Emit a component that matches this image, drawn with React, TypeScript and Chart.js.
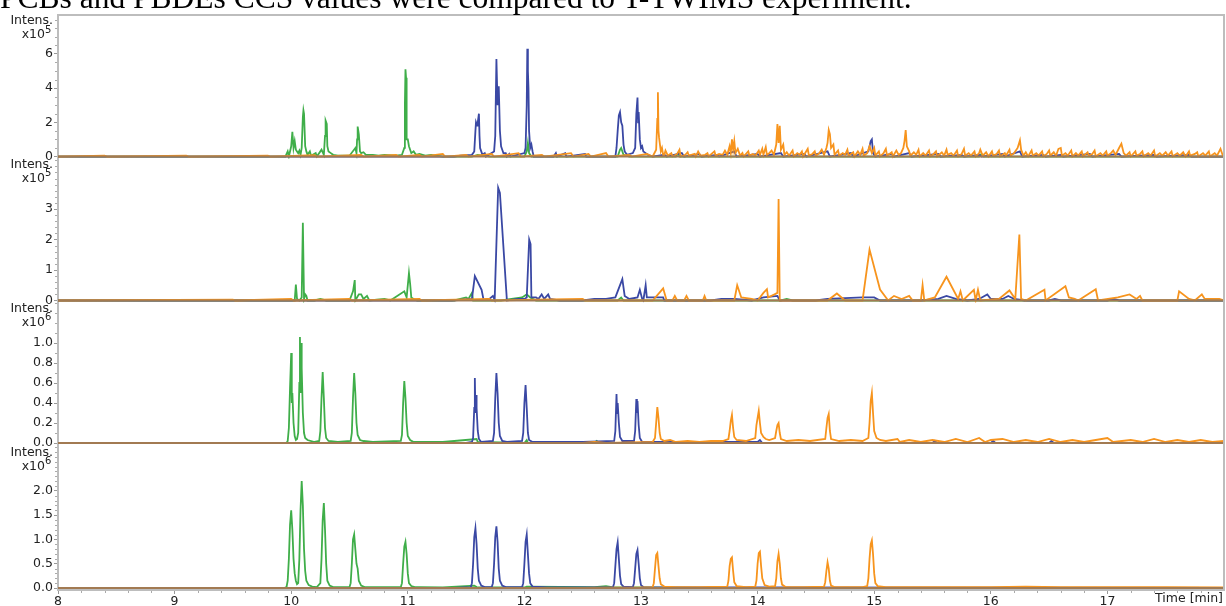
import React, { useEffect, useRef } from 'react';
import { Chart, registerables } from 'chart.js';

Chart.register(...registerables);

type Pt = [number, number];

const titleText = 'PCBs and PBDEs CCS values were compared to T-TWIMS experiment.';
const xTickValues = [8, 9, 10, 11, 12, 13, 14, 15, 16, 17];
const xLabel = 'Time [min]';
const yLabel = 'Intens.';
const panelExponents = ['5', '5', '6', '6'];
const p1Ticks = [0, 2, 4, 6];
const p2Ticks = [0, 1, 2, 3];
const p3Ticks = [0, 0.2, 0.4, 0.6, 0.8, 1.0];
const p4Ticks = [0, 0.5, 1.0, 1.5, 2.0];
const panelTicks = [p1Ticks, p2Ticks, p3Ticks, p4Ticks];
const panelMin = [-0.13, -0.066, -0.0325, -0.041];
const panelMax = [8.27, 4.65, 1.405, 2.917];
const panelMinorStep = [0.5, 0.2, 0.1, 0.1];
const panelDecimals = [0, 0, 1, 1];

// Panel 1 (x10^5)
const p1Green: Pt[] = [
  [8, 0], [9.95, 0], [9.97, 0.3], [9.98, 0], [10.0, 0.6], [10.01, 1.45], [10.02, 0.5], [10.03, 0.9], [10.04, 0.4],
  [10.05, 0.3], [10.06, 0.2], [10.07, 0.35], [10.08, 0.1], [10.09, 0.5], [10.1, 2.3], [10.105, 2.7], [10.11, 2.5],
  [10.12, 0.6], [10.13, 0.3], [10.14, 0.1], [10.16, 0.3], [10.17, 0.05], [10.21, 0.2], [10.22, 0], [10.26, 0.4],
  [10.28, 0.1], [10.29, 1.2], [10.295, 2.1], [10.305, 1.9], [10.31, 0.6], [10.32, 0.3], [10.34, 0.2], [10.36, 0.1],
  [10.4, 0.05], [10.5, 0.05], [10.55, 0.5], [10.56, 0.2], [10.565, 1.0], [10.57, 1.75], [10.58, 1.3], [10.59, 0.3],
  [10.6, 0.2], [10.62, 0.25], [10.64, 0.1], [10.7, 0.1], [10.75, 0.05], [10.8, 0.1], [10.9, 0.05], [10.95, 0.1],
  [10.97, 0.5], [10.975, 3.0], [10.98, 5.1], [10.985, 4.6], [10.99, 1.0], [11.0, 1.0], [11.01, 0.6], [11.02, 0.4],
  [11.03, 0.2], [11.05, 0.3], [11.07, 0.1], [11.1, 0.15], [11.15, 0.05], [11.2, 0.1], [11.3, 0], [11.55, 0],
  [11.6, 0.1], [11.7, 0], [12.0, 0], [12.02, 0.3], [12.03, 0.8], [12.04, 0.2], [12.06, 0], [12.8, 0], [12.82, 0.4],
  [12.83, 0.5], [12.85, 0.1], [12.9, 0], [13.3, 0], [13.32, 0.2], [13.33, 0], [15.9, 0], [15.92, 0.15], [15.94, 0], [18, 0],
];
const p1Blue: Pt[] = [
  [8, 0], [11.4, 0], [11.45, 0.05], [11.55, 0.1], [11.57, 0.3], [11.58, 1.5], [11.585, 2.0], [11.595, 1.8], [11.6, 2.0],
  [11.61, 2.5], [11.615, 1.2], [11.62, 0.5], [11.63, 0.3], [11.64, 0.1], [11.66, 0.2], [11.67, 0], [11.74, 0.3],
  [11.75, 1.2], [11.76, 5.7], [11.765, 5.7], [11.77, 3.0], [11.775, 4.0], [11.78, 4.1], [11.79, 1.5], [11.8, 0.6],
  [11.81, 0.4], [11.82, 0.2], [11.84, 0.2], [11.85, 0], [11.87, 0.15], [11.88, 0], [12.0, 0.2], [12.01, 0.5],
  [12.02, 3.0], [12.025, 6.3], [12.03, 5.0], [12.035, 4.0], [12.04, 1.5], [12.05, 0.5], [12.06, 0.7], [12.07, 0.3],
  [12.08, 0], [12.25, 0], [12.27, 0.2], [12.28, 0], [12.35, 0.2], [12.36, 0], [12.52, 0.15], [12.53, 0], [12.78, 0],
  [12.79, 0.5], [12.8, 1.5], [12.81, 2.4], [12.82, 2.6], [12.83, 2.0], [12.84, 1.8], [12.85, 0.7], [12.86, 0.3],
  [12.88, 0.1], [12.93, 0.2], [12.95, 0.5], [12.96, 2.5], [12.97, 3.45], [12.975, 2.0], [12.98, 2.6], [12.99, 1.0],
  [13.0, 0.5], [13.01, 0.6], [13.02, 0.3], [13.04, 0.2], [13.06, 0.1], [13.1, 0], [13.2, 0.1], [13.22, 0], [13.35, 0.2],
  [13.37, 0], [13.5, 0.15], [13.52, 0], [13.65, 0.1], [13.67, 0], [13.8, 0.3], [13.82, 0], [14.0, 0.15], [14.02, 0],
  [14.2, 0.2], [14.22, 0], [14.4, 0.15], [14.42, 0], [14.6, 0.3], [14.62, 0], [14.8, 0.2], [14.82, 0], [14.95, 0.3],
  [14.97, 0.9], [14.98, 1.0], [14.99, 0.2], [15.01, 0], [15.15, 0.15], [15.17, 0], [15.3, 0.2], [15.32, 0],
  [15.55, 0.15], [15.57, 0], [15.75, 0.1], [15.77, 0], [15.9, 0.1], [15.92, 0], [16.1, 0.15], [16.12, 0], [16.25, 0.3],
  [16.27, 0], [16.45, 0.1], [16.47, 0], [16.6, 0.1], [16.62, 0], [16.85, 0.15], [16.87, 0], [17.1, 0.15], [17.12, 0],
  [17.4, 0.1], [17.42, 0], [17.7, 0.1], [17.72, 0], [18, 0],
];
const p1Orange: Pt[] = [
  [8, 0], [8.4, 0.05], [8.42, 0], [9.1, 0.05], [9.12, 0], [9.8, 0.05], [9.82, 0], [10.2, 0.08], [10.22, 0], [10.6, 0.1],
  [10.62, 0], [10.9, 0.1], [10.92, 0], [11.1, 0.1], [11.12, 0], [11.3, 0.15], [11.32, 0], [11.5, 0.1], [11.52, 0],
  [11.72, 0.15], [11.74, 0], [11.95, 0.2], [11.97, 0], [12.15, 0.1], [12.17, 0], [12.4, 0.2], [12.42, 0], [12.55, 0.15],
  [12.57, 0], [12.7, 0.2], [12.72, 0], [12.9, 0.1], [12.92, 0], [13.05, 0.15], [13.1, 0], [13.13, 0.4], [13.14, 2.2],
  [13.145, 3.75], [13.15, 1.5], [13.155, 1.1], [13.16, 1.1], [13.17, 0.3], [13.18, 0.5], [13.19, 0.1],
  [13.2, 0.1], [13.21, 0.35], [13.23, 0.05], [13.26, 0.2], [13.27, 0], [13.31, 0.15], [13.33, 0.4], [13.34, 0],
  [13.38, 0.1], [13.4, 0.25], [13.41, 0.05], [13.46, 0.15], [13.47, 0], [13.49, 0.3], [13.51, 0.05], [13.55, 0.1],
  [13.57, 0.2], [13.58, 0], [13.63, 0.3], [13.64, 0.05], [13.67, 0.15], [13.7, 0.1], [13.72, 0.35], [13.74, 0.1],
  [13.76, 0.6], [13.77, 0.2], [13.78, 1.0], [13.79, 0.4], [13.8, 0.9], [13.81, 0.2], [13.83, 0.45], [13.85, 0.05],
  [13.87, 0.2], [13.88, 0], [13.92, 0.3], [13.93, 0.05], [13.96, 0.15], [13.98, 0.05], [14.01, 0.35], [14.02, 0.1],
  [14.04, 0.45], [14.05, 0.1], [14.07, 0.55], [14.08, 0.1], [14.1, 0.2], [14.12, 0.35], [14.14, 0.1], [14.16, 0.7],
  [14.17, 1.9], [14.18, 0.8], [14.19, 1.8], [14.2, 0.4], [14.22, 0.7], [14.23, 0.1], [14.25, 0.25], [14.27, 0.05],
  [14.3, 0.35], [14.31, 0], [14.34, 0.2], [14.36, 0.1], [14.38, 0.3], [14.39, 0], [14.43, 0.45], [14.44, 0.05],
  [14.47, 0.15], [14.49, 0.3], [14.5, 0.05], [14.53, 0.2], [14.55, 0.4], [14.57, 0.1], [14.59, 0.5], [14.6, 0.8],
  [14.61, 1.55], [14.62, 1.3], [14.63, 0.5], [14.65, 0.7], [14.66, 0.1], [14.69, 0.35], [14.7, 0.05], [14.73, 0.2],
  [14.75, 0.1], [14.77, 0.4], [14.78, 0.05], [14.82, 0.25], [14.83, 0], [14.86, 0.3], [14.88, 0.1], [14.9, 0.45],
  [14.91, 0.05], [14.94, 0.2], [14.96, 0.6], [14.98, 0.2], [15.0, 0.5], [15.01, 0.05], [15.04, 0.3], [15.05, 0],
  [15.08, 0.2], [15.1, 0.45], [15.11, 0.05], [15.15, 0.25], [15.16, 0], [15.19, 0.35], [15.21, 0.1], [15.23, 0.2],
  [15.25, 0.5], [15.26, 0.9], [15.27, 1.55], [15.28, 0.6], [15.3, 0.3], [15.31, 0.05], [15.34, 0.25], [15.36, 0.1],
  [15.38, 0.4], [15.39, 0], [15.42, 0.2], [15.44, 0.05], [15.47, 0.35], [15.48, 0], [15.51, 0.15], [15.53, 0.3],
  [15.54, 0], [15.58, 0.25], [15.6, 0.05], [15.62, 0.4], [15.63, 0.1], [15.66, 0.2], [15.68, 0.05], [15.71, 0.35],
  [15.72, 0], [15.75, 0.15], [15.77, 0.45], [15.78, 0.05], [15.81, 0.2], [15.83, 0.05], [15.86, 0.3], [15.87, 0],
  [15.9, 0.2], [15.91, 0.4], [15.93, 0.05], [15.96, 0.25], [15.98, 0], [16.01, 0.3], [16.02, 0.05], [16.05, 0.15],
  [16.07, 0.35], [16.08, 0], [16.12, 0.2], [16.13, 0.05], [16.16, 0.4], [16.17, 0.05], [16.2, 0.2], [16.23, 0.5],
  [16.25, 0.95], [16.26, 0.4], [16.28, 0.05], [16.3, 0.25], [16.32, 0], [16.35, 0.35], [16.36, 0.05], [16.39, 0.2],
  [16.41, 0.05], [16.44, 0.3], [16.45, 0], [16.48, 0.15], [16.5, 0.35], [16.51, 0.05], [16.54, 0.25], [16.56, 0.05],
  [16.58, 0.45], [16.6, 0.5], [16.61, 0.05], [16.64, 0.2], [16.66, 0.05], [16.69, 0.35], [16.7, 0], [16.73, 0.2],
  [16.75, 0.05], [16.78, 0.3], [16.79, 0], [16.83, 0.25], [16.84, 0.05], [16.87, 0.15], [16.89, 0.35], [16.9, 0],
  [16.94, 0.2], [16.96, 0.05], [16.99, 0.3], [17.0, 0.05], [17.03, 0.2], [17.05, 0.35], [17.07, 0.1], [17.1, 0.5],
  [17.12, 0.75], [17.14, 0.2], [17.16, 0.05], [17.19, 0.25], [17.2, 0], [17.24, 0.3], [17.25, 0.05], [17.28, 0.15],
  [17.3, 0.3], [17.31, 0], [17.35, 0.2], [17.37, 0.05], [17.4, 0.35], [17.41, 0], [17.45, 0.2], [17.47, 0.05],
  [17.5, 0.25], [17.52, 0.05], [17.55, 0.3], [17.56, 0], [17.6, 0.2], [17.62, 0.05], [17.65, 0.25], [17.67, 0],
  [17.7, 0.3], [17.71, 0.05], [17.75, 0.15], [17.77, 0.25], [17.78, 0], [17.82, 0.2], [17.84, 0.05], [17.87, 0.3],
  [17.88, 0], [17.92, 0.2], [17.94, 0.05], [17.97, 0.45], [17.99, 0.05], [18, 0],
];

// Panel 2 (x10^5)
const p2Green: Pt[] = [
  [8, 0], [9.9, 0], [10.03, 0], [10.04, 0.52], [10.05, 0.05], [10.07, 0], [10.09, 0.1], [10.1, 2.55], [10.11, 0.05],
  [10.12, 0.2], [10.13, 0.15], [10.14, 0], [10.2, 0], [10.25, 0.05], [10.3, 0], [10.5, 0], [10.53, 0.3], [10.545, 0.67],
  [10.55, 0], [10.58, 0.2], [10.6, 0.2], [10.62, 0.05], [10.65, 0.15], [10.67, 0], [10.8, 0.05], [10.85, 0],
  [10.97, 0.3], [10.99, 0.1], [11.01, 0.9], [11.02, 0.55], [11.03, 0.1], [11.05, 0.05], [11.08, 0], [11.4, 0],
  [11.45, 0.05], [11.5, 0.1], [11.52, 0.05], [11.55, 0.25], [11.56, 0], [11.8, 0], [11.98, 0.1], [12.02, 0.2],
  [12.05, 0.1], [12.1, 0], [12.8, 0], [12.83, 0.1], [12.85, 0], [14.2, 0], [14.25, 0.05], [14.3, 0], [18, 0],
];
const p2Blue: Pt[] = [
  [8, 0], [11.38, 0], [11.55, 0.05], [11.575, 0.8], [11.633, 0.35], [11.65, 0.02], [11.7, 0.05], [11.73, 0.15],
  [11.745, 0.02], [11.775, 3.7], [11.79, 3.53], [11.85, 0], [11.95, 0.05], [12.0, 0.05], [12.02, 0.1], [12.041, 2.0],
  [12.053, 1.85], [12.06, 0.1], [12.1, 0.1], [12.12, 0.05], [12.148, 0.2], [12.17, 0.05], [12.204, 0.2], [12.22, 0.05],
  [12.3, 0], [12.5, 0], [12.6, 0.05], [12.7, 0.05], [12.78, 0.1], [12.84, 0.7], [12.86, 0.15], [12.9, 0.05],
  [12.97, 0.1], [12.99, 0.35], [13.01, 0.05], [13.02, 0], [13.04, 0.5], [13.05, 0.1], [13.19, 0.1], [13.2, 0],
  [13.6, 0], [13.69, 0.05], [13.8, 0.05], [13.95, 0], [14.05, 0.1], [14.17, 0.15], [14.19, 0], [14.5, 0], [14.6, 0.05],
  [14.9, 0.1], [15.0, 0.1], [15.05, 0], [15.4, 0], [15.55, 0.05], [15.62, 0.15], [15.7, 0.05], [15.8, 0], [15.9, 0.05],
  [15.97, 0.2], [16.0, 0.05], [16.1, 0.05], [16.15, 0.15], [16.2, 0.05], [16.29, 0], [16.5, 0], [16.55, 0.05],
  [16.6, 0], [17.0, 0], [17.05, 0.05], [17.1, 0], [18, 0],
];
const p2Orange: Pt[] = [
  [8, 0], [9.5, 0.03], [9.52, 0], [10.0, 0.05], [10.02, 0], [10.5, 0.05], [10.52, 0], [11.1, 0.05], [11.12, 0],
  [11.7, 0.05], [11.72, 0], [12.5, 0.05], [12.52, 0], [13.1, 0], [13.19, 0.4], [13.22, 0], [13.27, 0], [13.29, 0.15],
  [13.31, 0], [13.37, 0], [13.39, 0.15], [13.41, 0], [13.53, 0], [13.545, 0.15], [13.56, 0], [13.8, 0], [13.825, 0.5],
  [13.86, 0.1], [13.95, 0.05], [14.0, 0], [14.05, 0.25], [14.08, 0.37], [14.09, 0.1], [14.145, 0.2], [14.17, 0.25],
  [14.18, 3.33], [14.19, 0], [14.6, 0], [14.68, 0.23], [14.72, 0.1], [14.75, 0], [14.9, 0], [14.96, 1.67],
  [15.05, 0.36], [15.12, 0], [15.17, 0.15], [15.235, 0.05], [15.3, 0.15], [15.33, 0], [15.4, 0], [15.415, 0.5],
  [15.43, 0], [15.52, 0.1], [15.62, 0.78], [15.72, 0.05], [15.74, 0.3], [15.76, 0], [15.855, 0.35], [15.87, 0],
  [15.89, 0.35], [15.91, 0], [16.07, 0.05], [16.16, 0.33], [16.21, 0.05], [16.245, 2.16], [16.26, 0.05], [16.3, 0],
  [16.46, 0.35], [16.47, 0], [16.64, 0.47], [16.67, 0.1], [16.72, 0.05], [16.75, 0], [16.9, 0.37], [16.92, 0],
  [17.09, 0.1], [17.19, 0.2], [17.25, 0.05], [17.28, 0.15], [17.3, 0], [17.6, 0], [17.615, 0.3], [17.7, 0.05],
  [17.75, 0], [17.81, 0.2], [17.835, 0.05], [17.96, 0.05], [18, 0],
];

// Panel 3 (x10^6)
const p3Green: Pt[] = [
  [8, 0], [9.96, 0], [9.97, 0.02], [9.98, 0.15], [9.99, 0.55], [10.0, 0.9], [10.005, 0.4], [10.01, 0.5], [10.02, 0.2],
  [10.03, 0.07], [10.04, 0.03], [10.05, 0.04], [10.06, 0.1], [10.07, 0.6], [10.075, 1.06], [10.08, 0.5], [10.085, 1.0],
  [10.09, 0.75], [10.1, 0.3], [10.11, 0.1], [10.12, 0.05], [10.14, 0.03], [10.2, 0.01], [10.24, 0.02], [10.25, 0.12],
  [10.26, 0.45], [10.27, 0.71], [10.28, 0.45], [10.29, 0.15], [10.3, 0.05], [10.32, 0.02], [10.4, 0.01], [10.51, 0.02],
  [10.52, 0.1], [10.53, 0.45], [10.54, 0.7], [10.55, 0.5], [10.56, 0.2], [10.57, 0.08], [10.59, 0.03], [10.62, 0.02],
  [10.7, 0.01], [10.94, 0.02], [10.95, 0.08], [10.96, 0.4], [10.97, 0.62], [10.98, 0.45], [10.99, 0.2], [11.0, 0.07],
  [11.02, 0.03], [11.05, 0.01], [11.3, 0.01], [11.59, 0.04], [11.6, 0.01], [12.0, 0], [12.02, 0.03], [12.03, 0],
  [12.6, 0], [12.62, 0.02], [12.64, 0], [18, 0],
];
const p3Blue: Pt[] = [
  [8, 0], [11.5, 0], [11.55, 0.01], [11.56, 0.05], [11.57, 0.35], [11.575, 0.65], [11.58, 0.3], [11.585, 0.48],
  [11.59, 0.35], [11.6, 0.12], [11.61, 0.04], [11.63, 0.01], [11.73, 0.02], [11.74, 0.1], [11.75, 0.45], [11.76, 0.7],
  [11.77, 0.5], [11.78, 0.2], [11.79, 0.07], [11.81, 0.02], [11.85, 0.01], [11.98, 0.02], [11.99, 0.1], [12.0, 0.4],
  [12.01, 0.58], [12.02, 0.35], [12.03, 0.1], [12.04, 0.03], [12.07, 0.01], [12.5, 0.01], [12.77, 0.02], [12.78, 0.12],
  [12.79, 0.49], [12.795, 0.3], [12.8, 0.4], [12.81, 0.2], [12.82, 0.06], [12.84, 0.02], [12.94, 0.02], [12.95, 0.12],
  [12.96, 0.44], [12.965, 0.3], [12.97, 0.42], [12.98, 0.18], [12.99, 0.05], [13.01, 0.01], [13.5, 0.01], [14.0, 0.01],
  [14.02, 0.03], [14.04, 0], [15.5, 0], [15.52, 0.02], [15.54, 0], [16.0, 0], [16.02, 0.02], [16.04, 0], [16.5, 0],
  [16.52, 0.02], [16.54, 0], [18, 0],
];
const p3Orange: Pt[] = [
  [8, 0], [12.5, 0], [12.6, 0.01], [12.7, 0], [13.1, 0.01], [13.12, 0.05], [13.13, 0.2], [13.14, 0.36], [13.15, 0.25],
  [13.16, 0.1], [13.17, 0.04], [13.2, 0.02], [13.25, 0.03], [13.3, 0.01], [13.4, 0.02], [13.5, 0.01], [13.6, 0.02],
  [13.7, 0.02], [13.75, 0.04], [13.76, 0.12], [13.77, 0.22], [13.78, 0.28], [13.79, 0.15], [13.8, 0.06], [13.82, 0.03],
  [13.9, 0.02], [13.98, 0.05], [13.99, 0.18], [14.0, 0.25], [14.01, 0.32], [14.02, 0.2], [14.03, 0.1], [14.05, 0.06],
  [14.07, 0.04], [14.1, 0.03], [14.15, 0.05], [14.16, 0.12], [14.17, 0.18], [14.18, 0.2], [14.19, 0.1], [14.2, 0.04],
  [14.25, 0.02], [14.35, 0.03], [14.45, 0.02], [14.58, 0.04], [14.59, 0.15], [14.6, 0.25], [14.61, 0.29], [14.62, 0.12],
  [14.63, 0.04], [14.7, 0.02], [14.8, 0.03], [14.9, 0.02], [14.95, 0.05], [14.96, 0.2], [14.97, 0.42], [14.98, 0.5],
  [14.99, 0.3], [15.0, 0.12], [15.02, 0.05], [15.05, 0.03], [15.1, 0.02], [15.2, 0.04], [15.22, 0.01], [15.3, 0.03],
  [15.4, 0.01], [15.5, 0.03], [15.6, 0.01], [15.7, 0.04], [15.8, 0.01], [15.9, 0.05], [15.95, 0.01], [16.0, 0.03],
  [16.1, 0.04], [16.2, 0.01], [16.3, 0.03], [16.4, 0.01], [16.5, 0.04], [16.6, 0.01], [16.7, 0.03], [16.8, 0.01],
  [16.9, 0.03], [17.0, 0.05], [17.05, 0.01], [17.2, 0.03], [17.3, 0.01], [17.4, 0.04], [17.5, 0.01], [17.6, 0.03],
  [17.7, 0.01], [17.8, 0.03], [17.9, 0.01], [18, 0.02],
];

// Panel 4 (x10^6)
const p4Green: Pt[] = [
  [8, 0], [9.94, 0], [9.96, 0.02], [9.97, 0.15], [9.98, 0.6], [9.99, 1.3], [10.0, 1.6], [10.01, 1.2], [10.02, 0.6],
  [10.03, 0.3], [10.04, 0.15], [10.05, 0.08], [10.06, 0.1], [10.07, 0.6], [10.08, 1.6], [10.09, 2.2], [10.1, 1.7],
  [10.11, 0.8], [10.12, 0.35], [10.13, 0.15], [10.15, 0.06], [10.18, 0.03], [10.22, 0.02], [10.25, 0.1], [10.26, 0.6],
  [10.27, 1.4], [10.28, 1.75], [10.29, 1.2], [10.3, 0.5], [10.31, 0.15], [10.33, 0.05], [10.36, 0.02], [10.5, 0.02],
  [10.51, 0.1], [10.52, 0.5], [10.53, 1.0], [10.54, 1.1], [10.55, 0.8], [10.56, 0.5], [10.57, 0.4], [10.58, 0.15],
  [10.6, 0.05], [10.63, 0.02], [10.94, 0.02], [10.95, 0.1], [10.96, 0.5], [10.97, 0.85], [10.98, 0.95], [10.99, 0.7],
  [11.0, 0.3], [11.01, 0.1], [11.03, 0.04], [11.06, 0.02], [11.1, 0.02], [11.3, 0.01], [11.57, 0.05], [11.59, 0.02],
  [12.0, 0.01], [12.02, 0.03], [12.6, 0.02], [12.7, 0.04], [12.75, 0.02], [13, 0.01], [13.5, 0], [18, 0],
];
const p4Blue: Pt[] = [
  [8, 0], [11.4, 0], [11.54, 0.02], [11.55, 0.1], [11.56, 0.5], [11.57, 1.05], [11.58, 1.23], [11.59, 0.9], [11.6, 0.4],
  [11.61, 0.15], [11.63, 0.05], [11.66, 0.02], [11.72, 0.02], [11.73, 0.1], [11.74, 0.5], [11.75, 1.05], [11.76, 1.27],
  [11.77, 0.95], [11.78, 0.4], [11.79, 0.15], [11.81, 0.05], [11.84, 0.02], [11.98, 0.02], [11.99, 0.1], [12.0, 0.5],
  [12.01, 0.95], [12.02, 1.1], [12.03, 0.7], [12.04, 0.3], [12.05, 0.1], [12.07, 0.03], [12.2, 0.01], [12.76, 0.02],
  [12.77, 0.1], [12.78, 0.45], [12.79, 0.8], [12.8, 0.94], [12.81, 0.6], [12.82, 0.25], [12.83, 0.08], [12.85, 0.03],
  [12.93, 0.02], [12.94, 0.1], [12.95, 0.4], [12.96, 0.7], [12.97, 0.78], [12.98, 0.5], [12.99, 0.2], [13.0, 0.06],
  [13.02, 0.02], [13.2, 0.01], [14.0, 0.01], [18, 0],
];
const p4Orange: Pt[] = [
  [8, 0], [12.5, 0], [13.0, 0.01], [13.1, 0.02], [13.11, 0.1], [13.12, 0.4], [13.13, 0.68], [13.14, 0.72], [13.15, 0.45],
  [13.16, 0.2], [13.17, 0.08], [13.2, 0.03], [13.3, 0.02], [13.5, 0.02], [13.74, 0.03], [13.75, 0.15], [13.76, 0.45],
  [13.77, 0.6], [13.78, 0.63], [13.79, 0.35], [13.8, 0.12], [13.82, 0.04], [13.9, 0.02], [13.98, 0.03], [13.99, 0.15],
  [14.0, 0.5], [14.01, 0.72], [14.02, 0.75], [14.03, 0.45], [14.04, 0.2], [14.06, 0.06], [14.1, 0.03], [14.15, 0.04],
  [14.16, 0.2], [14.17, 0.55], [14.18, 0.7], [14.19, 0.5], [14.2, 0.2], [14.21, 0.07], [14.24, 0.02], [14.4, 0.02],
  [14.57, 0.03], [14.58, 0.12], [14.59, 0.35], [14.6, 0.53], [14.61, 0.4], [14.62, 0.15], [14.63, 0.05], [14.66, 0.02],
  [14.9, 0.02], [14.94, 0.04], [14.95, 0.2], [14.96, 0.6], [14.97, 0.9], [14.98, 0.98], [14.99, 0.7], [15.0, 0.3],
  [15.01, 0.1], [15.03, 0.04], [15.1, 0.02], [15.5, 0.02], [16.0, 0.02], [16.3, 0.03], [16.6, 0.02], [17.0, 0.02],
  [17.5, 0.02], [18, 0.01],
];

const baseline: Pt[] = [[8, 0], [18, 0]];

const GREEN = '#3fae49';
const BLUE = '#3a48a4';
const ORANGE = '#f7941d';
const BASE = '#a27a52';
const AXIS_GREY = '#bdbdbd';
const TEXT = '#222222';
const FONT = '"DejaVu Sans", Verdana, sans-serif';
const FONT_SIZE = 12.5;

const toXY = (arr: Pt[]) => arr.map(([x, y]) => ({ x, y }));

export default function App() {
  const ref = useRef<HTMLCanvasElement>(null);

  useEffect(() => {
    const canvas = ref.current;
    if (!canvas) return;
    const series = [
      [p1Green, p1Blue, p1Orange],
      [p2Green, p2Blue, p2Orange],
      [p3Green, p3Blue, p3Orange],
      [p4Green, p4Blue, p4Orange],
    ];
    const colors = [GREEN, BLUE, ORANGE];
    const drawOrder = [3, 2, 1]; // lower order is painted on top
    const datasets: any[] = [];
    series.forEach((group, i) => {
      group.forEach((arr, j) => {
        datasets.push({
          data: toXY(arr),
          yAxisID: 'y' + i,
          xAxisID: 'x',
          borderColor: colors[j],
          borderWidth: 1.8,
          pointRadius: 0,
          tension: 0,
          fill: false,
          order: drawOrder[j],
        });
      });
    });
    for (let i = 0; i < 4; i++) {
      datasets.push({
        data: toXY(baseline),
        yAxisID: 'y' + i,
        xAxisID: 'x',
        borderColor: BASE,
        borderWidth: 2,
        pointRadius: 0,
        fill: false,
        order: 0,
      });
    }

    const scales: any = {
      x: {
        type: 'linear',
        position: 'bottom',
        min: 8,
        max: 18,
        border: { color: AXIS_GREY, width: 2 },
        grid: { drawOnChartArea: false, drawTicks: true, tickLength: 4, tickColor: '#999' },
        ticks: { font: { family: FONT, size: FONT_SIZE }, color: TEXT, padding: 0, maxRotation: 0, autoSkip: false },
        afterBuildTicks: (s: any) => {
          s.ticks = xTickValues.map((v) => ({ value: v }));
        },
        afterFit: (s: any) => {
          s.height = 16;
        },
      },
    };
    // stacked scales are laid out bottom-up in insertion order, so add the bottom panel first
    for (let i = 3; i >= 0; i--) {
      scales['y' + i] = {
        type: 'linear',
        position: 'left',
        stack: 'panels',
        stackWeight: 1,
        min: panelMin[i],
        max: panelMax[i],
        border: { color: AXIS_GREY, width: 2 },
        grid: { drawOnChartArea: false, drawTicks: true, tickLength: 4, tickColor: '#999' },
        ticks: {
          font: { family: FONT, size: FONT_SIZE },
          color: TEXT,
          padding: 1,
          autoSkip: false,
          callback: (v: any) => Number(v).toFixed(panelDecimals[i]),
        },
        afterBuildTicks: (s: any) => {
          s.ticks = panelTicks[i].map((v) => ({ value: v }));
        },
        afterFit: (s: any) => {
          s.width = 58;
        },
      };
    }

    const decor = {
      id: 'decor',
      afterDraw(chart: any) {
        const ctx = chart.ctx;
        const a = chart.chartArea;
        ctx.save();
        ctx.strokeStyle = AXIS_GREY;
        ctx.lineWidth = 2;
        ctx.beginPath();
        ctx.moveTo(a.left, a.top);
        ctx.lineTo(a.right, a.top);
        ctx.lineTo(a.right, a.bottom);
        ctx.stroke();

        ctx.strokeStyle = '#aaa';
        ctx.lineWidth = 1;
        for (let i = 0; i < 4; i++) {
          const s = chart.scales['y' + i];
          const step = panelMinorStep[i];
          for (let k = 1; k * step <= panelMax[i]; k++) {
            const v = k * step;
            if (panelTicks[i].some((t) => Math.abs(t - v) < 1e-6)) continue;
            const y = Math.round(s.getPixelForValue(v)) + 0.5;
            ctx.beginPath();
            ctx.moveTo(a.left - 3, y);
            ctx.lineTo(a.left - 1, y);
            ctx.stroke();
          }
        }
        const xs = chart.scales.x;
        for (let k = 0; k <= 50; k++) {
          const v = 8 + k * 0.2;
          if (k % 5 === 0) continue;
          const x = Math.round(xs.getPixelForValue(v)) + 0.5;
          ctx.beginPath();
          ctx.moveTo(x, a.bottom + 1);
          ctx.lineTo(x, a.bottom + 3);
          ctx.stroke();
        }

        ctx.fillStyle = TEXT;
        ctx.textBaseline = 'middle';
        for (let i = 0; i < 4; i++) {
          const s = chart.scales['y' + i];
          ctx.font = FONT_SIZE + 'px ' + FONT;
          ctx.textAlign = 'right';
          ctx.fillText(yLabel, 53, s.top + 6);
          ctx.fillText('x10', 45, s.top + 20);
          ctx.font = '10px ' + FONT;
          ctx.textAlign = 'left';
          ctx.fillText(panelExponents[i], 45, s.top + 15);
        }
        ctx.font = FONT_SIZE + 'px ' + FONT;
        ctx.textAlign = 'right';
        ctx.fillText(xLabel, 1223, 599);
        ctx.restore();
      },
    };

    const chart = new Chart(canvas, {
      type: 'line',
      data: { datasets },
      options: {
        animation: false,
        responsive: false,
        devicePixelRatio: 1,
        events: [],
        layout: { padding: { top: 15, right: 2, left: 0, bottom: 0 } },
        plugins: { legend: { display: false }, tooltip: { enabled: false } },
        scales,
      },
      plugins: [decor],
    } as any);
    return () => chart.destroy();
  }, []);

  return (
    <div style={{ position: 'absolute', left: 0, top: 0, width: 1226, height: 606, overflow: 'hidden', background: '#fff' }}>
      <canvas ref={ref} width={1226} height={606} style={{ display: 'block' }} />
      <div
        style={{
          position: 'absolute',
          left: 0,
          top: -22,
          fontFamily: '"Liberation Serif", "Times New Roman", serif',
          fontSize: '31.5px',
          lineHeight: '40px',
          whiteSpace: 'nowrap',
          color: '#000',
        }}
      >
        {titleText}
      </div>
    </div>
  );
}
